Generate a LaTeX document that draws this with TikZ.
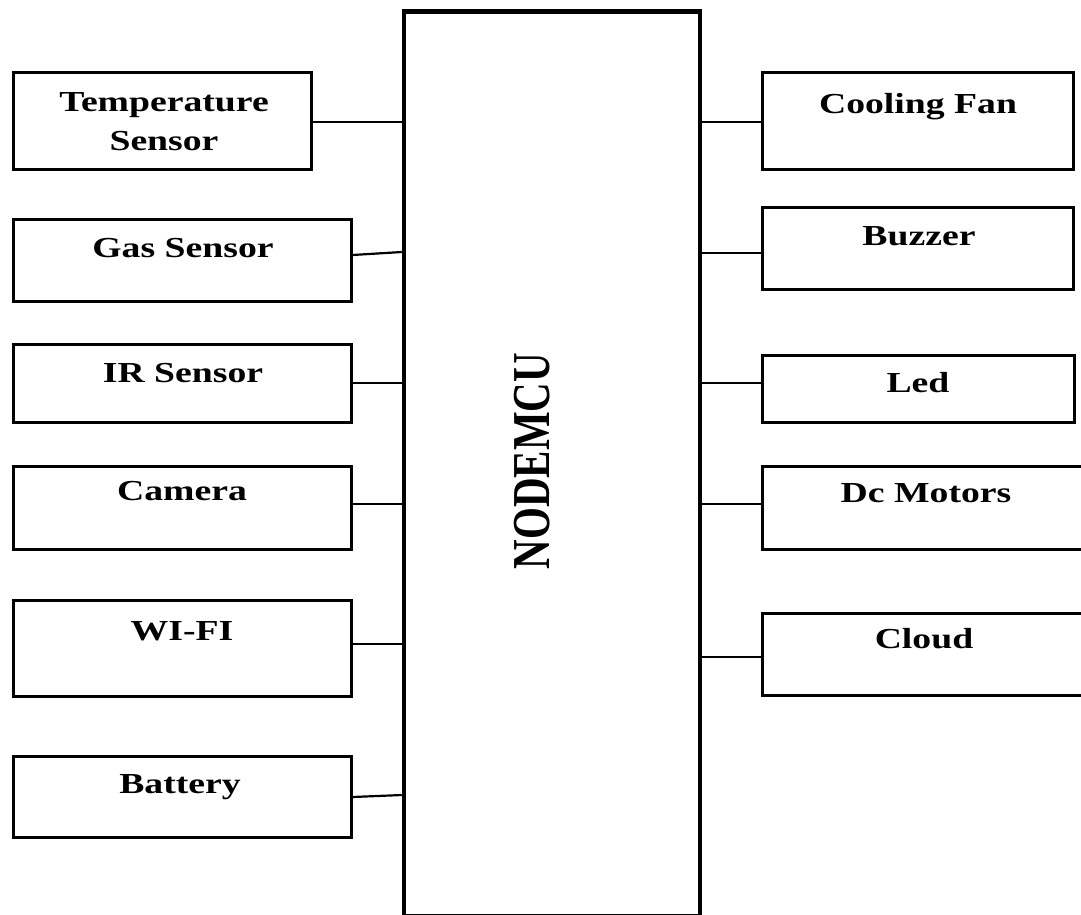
\documentclass[tikz,border=0pt]{standalone}
\usepackage{fontspec}
\setmainfont{Liberation Serif}
\usetikzlibrary{calc}
\newcommand{\wlbl}[1]{\scalebox{1.3}[1]{#1}}
\begin{document}
\begin{tikzpicture}[x=1pt,y=-1pt,
  box/.style={draw=black,line width=3pt,rectangle,inner sep=0pt,fill=white},
  mcubox/.style={draw=black,line width=4.5pt,rectangle,inner sep=0pt},
  conn/.style={draw=black,line width=2.2pt},
  lbl/.style={inner sep=0pt,anchor=base,font=\fontsize{29}{39}\selectfont\bfseries}]
\useasboundingbox (0,0) rectangle (1081,914);
\clip (0,0) rectangle (1081,914);
\fill[white] (0,0) rectangle (1081,914);
% central box
\node[mcubox,minimum width=296pt,minimum height=904.5pt] (mcu) at (552,463.75) {};
\node[inner sep=0pt,font=\fontsize{41}{49}\selectfont\bfseries] (mcutxt) at (532,461) {\scalebox{1.3}[1]{\rotatebox{90}{NODEMCU}}};
% left boxes
\node[box,minimum width=298pt,minimum height=97pt] (temp) at (162,120.5) {};
\node[box,minimum width=338pt,minimum height=82pt] (gas) at (182,260) {};
\node[box,minimum width=338pt,minimum height=78pt] (ir) at (182,383) {};
\node[box,minimum width=338pt,minimum height=83pt] (cam) at (182,507.5) {};
\node[box,minimum width=338pt,minimum height=96pt] (wifi) at (182,648) {};
\node[box,minimum width=338pt,minimum height=81pt] (bat) at (182,796.5) {};
% right boxes
\node[box,minimum width=311pt,minimum height=97pt] (fan) at (917.5,120.5) {};
\node[box,minimum width=311pt,minimum height=82pt] (buz) at (917.5,248) {};
\node[box,minimum width=312pt,minimum height=67pt] (led) at (918,388.5) {};
\node[box,minimum width=333pt,minimum height=83pt] (dc) at (928.5,507.5) {};
\node[box,minimum width=333pt,minimum height=82pt] (cloud) at (928.5,654) {};
% labels
\node[lbl] (ttemp) at (164,111) {\wlbl{\begin{tabular}[t]{@{}c@{}}Temperature\\Sensor\end{tabular}}};
\node[lbl] (tgas) at (183,257) {\wlbl{Gas Sensor}};
\node[lbl] (tir) at (183,382) {\wlbl{IR Sensor}};
\node[lbl] (tcam) at (182,500) {\wlbl{Camera}};
\node[lbl] (twifi) at (182,640) {\wlbl{WI-FI}};
\node[lbl] (tbat) at (180,793) {\wlbl{Battery}};
\node[lbl] (tfan) at (918,113) {\wlbl{Cooling Fan}};
\node[lbl] (tbuz) at (919,245) {\wlbl{Buzzer}};
\node[lbl] (tled) at (918,392) {\wlbl{Led}};
\node[lbl] (tdc) at (926,502) {\wlbl{Dc Motors}};
\node[lbl] (tcloud) at (924,648) {\wlbl{Cloud}};
% connectors left
\draw[conn] ($(temp.east)+(0,1.5)$) -- ($(temp.east -| mcu.west)+(0,1.5)$);
\draw[conn] ($(gas.east)+(0,-5)$) -- ($(gas.east -| mcu.west)+(0,-8)$);
\draw[conn] (ir.east) -- (ir.east -| mcu.west);
\draw[conn] ($(cam.east)+(0,-3.5)$) -- ($(cam.east -| mcu.west)+(0,-3.5)$);
\draw[conn] ($(wifi.east)+(0,-4)$) -- ($(wifi.east -| mcu.west)+(0,-4)$);
\draw[conn] ($(bat.east)+(0,0.5)$) -- ($(bat.east -| mcu.west)+(0,-1.5)$);
% connectors right
\draw[conn] ($(fan.west -| mcu.east)+(0,1.5)$) -- ($(fan.west)+(0,1.5)$);
\draw[conn] ($(buz.west -| mcu.east)+(0,5)$) -- ($(buz.west)+(0,5)$);
\draw[conn] ($(led.west -| mcu.east)+(0,-5.5)$) -- ($(led.west)+(0,-5.5)$);
\draw[conn] ($(dc.west -| mcu.east)+(0,-3.5)$) -- ($(dc.west)+(0,-3.5)$);
\draw[conn] ($(cloud.west -| mcu.east)+(0,3)$) -- ($(cloud.west)+(0,3)$);
\end{tikzpicture}
\end{document}
